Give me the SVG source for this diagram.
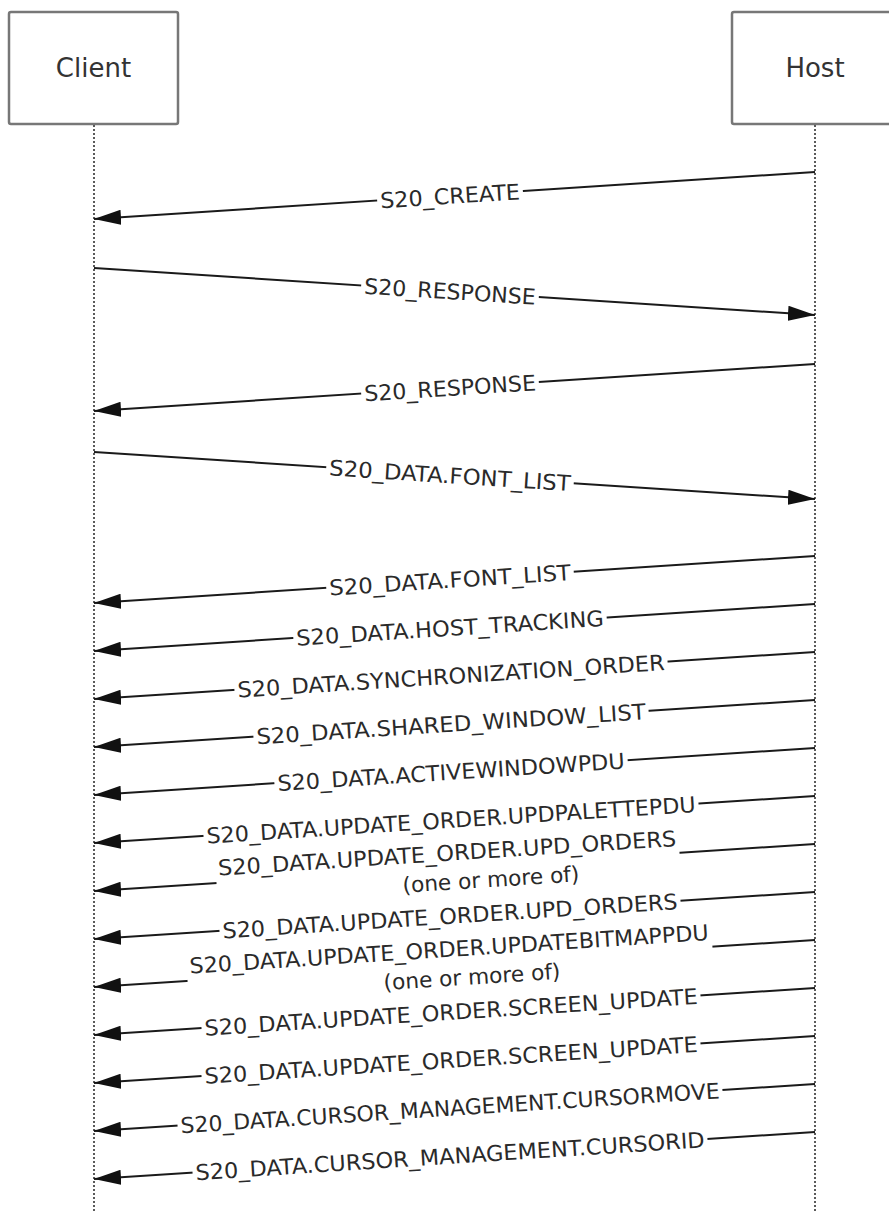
<svg xmlns="http://www.w3.org/2000/svg" width="889" height="1211" viewBox="0 0 889 1211">
<style>
.box{fill:#fff;stroke:#777;stroke-width:2.5}
.title{font-family:"DejaVu Sans",Verdana,sans-serif;font-size:26px;fill:#333;text-anchor:middle}
.life{stroke:#5a5a5a;stroke-width:2;stroke-dasharray:2 2;fill:none}
.msg{stroke:#1a1a1a;stroke-width:1.9;fill:none;marker-end:url(#ah)}
.lbl{font-family:"DejaVu Sans",Verdana,sans-serif;font-size:21.7px;fill:#2a2a2a;text-anchor:middle}
.bg{fill:#fff}
</style>
<defs>
<marker id="ah" markerUnits="userSpaceOnUse" viewBox="0 0 27 15" markerWidth="27" markerHeight="15" refX="27" refY="7.5" orient="auto">
<path d="M0,0 L27,7.5 L0,15 Z" fill="#111"/>
</marker>
</defs>
<rect width="889" height="1211" fill="#fff"/>
<g id="client">
<rect class="box" x="9" y="12" width="169" height="112" rx="2"/>
<text class="title" x="93.5" y="77">Client</text>
</g>
<g id="host">
<rect class="box" x="732" y="12" width="168" height="112" rx="2"/>
<text class="title" x="815" y="77">Host</text>
</g>
<g id="lifelines">
<line class="life" x1="94" y1="125" x2="94" y2="1211"/>
<line class="life" x1="815" y1="125" x2="815" y2="1211"/>
</g>
<g id="connectors">
<line class="msg" x1="815" y1="172" x2="94" y2="219"/>
<line class="msg" x1="94" y1="268" x2="815" y2="315"/>
<line class="msg" x1="815" y1="364" x2="94" y2="411"/>
<line class="msg" x1="94" y1="452" x2="815" y2="499"/>
<line class="msg" x1="815" y1="556" x2="94" y2="603"/>
<line class="msg" x1="815" y1="604" x2="94" y2="651"/>
<line class="msg" x1="815" y1="652" x2="94" y2="699"/>
<line class="msg" x1="815" y1="700" x2="94" y2="747"/>
<line class="msg" x1="815" y1="748" x2="94" y2="795"/>
<line class="msg" x1="815" y1="796" x2="94" y2="843"/>
<line class="msg" x1="815" y1="844" x2="94" y2="891"/>
<line class="msg" x1="815" y1="892" x2="94" y2="939"/>
<line class="msg" x1="815" y1="940" x2="94" y2="987"/>
<line class="msg" x1="815" y1="988" x2="94" y2="1035"/>
<line class="msg" x1="815" y1="1036" x2="94" y2="1083"/>
<line class="msg" x1="815" y1="1084" x2="94" y2="1131"/>
<line class="msg" x1="815" y1="1132" x2="94" y2="1179"/>
</g>
<g id="labels">
<g transform="translate(450,195.8) rotate(-3.7)"><rect class="bg" x="-73" y="-12" width="146" height="22"/><text class="lbl" x="0" y="8" textLength="140" lengthAdjust="spacingAndGlyphs">S20_CREATE</text></g>
<g transform="translate(450,291.2) rotate(3.7)"><rect class="bg" x="-89" y="-12" width="178" height="22"/><text class="lbl" x="0" y="8" textLength="172" lengthAdjust="spacingAndGlyphs">S20_RESPONSE</text></g>
<g transform="translate(450,387.8) rotate(-3.7)"><rect class="bg" x="-89" y="-12" width="178" height="22"/><text class="lbl" x="0" y="8" textLength="172" lengthAdjust="spacingAndGlyphs">S20_RESPONSE</text></g>
<g transform="translate(450,475.2) rotate(3.7)"><rect class="bg" x="-124" y="-12" width="248" height="22"/><text class="lbl" x="0" y="8" textLength="242" lengthAdjust="spacingAndGlyphs">S20_DATA.FONT_LIST</text></g>
<g transform="translate(450,579.8) rotate(-3.7)"><rect class="bg" x="-124" y="-12" width="248" height="22"/><text class="lbl" x="0" y="8" textLength="242" lengthAdjust="spacingAndGlyphs">S20_DATA.FONT_LIST</text></g>
<g transform="translate(450,627.8) rotate(-3.7)"><rect class="bg" x="-157" y="-12" width="314" height="22"/><text class="lbl" x="0" y="8" textLength="308" lengthAdjust="spacingAndGlyphs">S20_DATA.HOST_TRACKING</text></g>
<g transform="translate(451,675.8) rotate(-3.7)"><rect class="bg" x="-217" y="-12" width="434" height="22"/><text class="lbl" x="0" y="8" textLength="428" lengthAdjust="spacingAndGlyphs">S20_DATA.SYNCHRONIZATION_ORDER</text></g>
<g transform="translate(451,723.8) rotate(-3.7)"><rect class="bg" x="-198" y="-12" width="396" height="22"/><text class="lbl" x="0" y="8" textLength="390" lengthAdjust="spacingAndGlyphs">S20_DATA.SHARED_WINDOW_LIST</text></g>
<g transform="translate(451,771.8) rotate(-3.7)"><rect class="bg" x="-177" y="-12" width="354" height="22"/><text class="lbl" x="0" y="8" textLength="348" lengthAdjust="spacingAndGlyphs">S20_DATA.ACTIVEWINDOWPDU</text></g>
<g transform="translate(451,819.8) rotate(-3.7)"><rect class="bg" x="-248" y="-12" width="496" height="22"/><text class="lbl" x="0" y="8" textLength="490" lengthAdjust="spacingAndGlyphs">S20_DATA.UPDATE_ORDER.UPDPALETTEPDU</text></g>
<g transform="translate(448,867.8) rotate(-3.7)"><rect class="bg" x="-232" y="-25" width="464" height="29"/><text class="lbl" x="0" y="-7" textLength="459" lengthAdjust="spacingAndGlyphs">S20_DATA.UPDATE_ORDER.UPD_ORDERS</text><text class="lbl" x="42" y="22" textLength="177" lengthAdjust="spacingAndGlyphs">(one or more of)</text></g>
<g transform="translate(450,915.8) rotate(-3.7)"><rect class="bg" x="-231" y="-12" width="462" height="22"/><text class="lbl" x="0" y="8" textLength="456" lengthAdjust="spacingAndGlyphs">S20_DATA.UPDATE_ORDER.UPD_ORDERS</text></g>
<g transform="translate(450,963.8) rotate(-3.7)"><rect class="bg" x="-263" y="-25" width="526" height="29"/><text class="lbl" x="0" y="-7" textLength="520" lengthAdjust="spacingAndGlyphs">S20_DATA.UPDATE_ORDER.UPDATEBITMAPPDU</text><text class="lbl" x="21" y="22" textLength="177" lengthAdjust="spacingAndGlyphs">(one or more of)</text></g>
<g transform="translate(451,1011.8) rotate(-3.7)"><rect class="bg" x="-250" y="-12" width="500" height="22"/><text class="lbl" x="0" y="8" textLength="494" lengthAdjust="spacingAndGlyphs">S20_DATA.UPDATE_ORDER.SCREEN_UPDATE</text></g>
<g transform="translate(451,1059.8) rotate(-3.7)"><rect class="bg" x="-250" y="-12" width="500" height="22"/><text class="lbl" x="0" y="8" textLength="494" lengthAdjust="spacingAndGlyphs">S20_DATA.UPDATE_ORDER.SCREEN_UPDATE</text></g>
<g transform="translate(450,1107.8) rotate(-3.7)"><rect class="bg" x="-273" y="-12" width="546" height="22"/><text class="lbl" x="0" y="8" textLength="540" lengthAdjust="spacingAndGlyphs">S20_DATA.CURSOR_MANAGEMENT.CURSORMOVE</text></g>
<g transform="translate(450,1155.8) rotate(-3.7)"><rect class="bg" x="-258" y="-12" width="516" height="22"/><text class="lbl" x="0" y="8" textLength="510" lengthAdjust="spacingAndGlyphs">S20_DATA.CURSOR_MANAGEMENT.CURSORID</text></g>
</g>
</svg>
